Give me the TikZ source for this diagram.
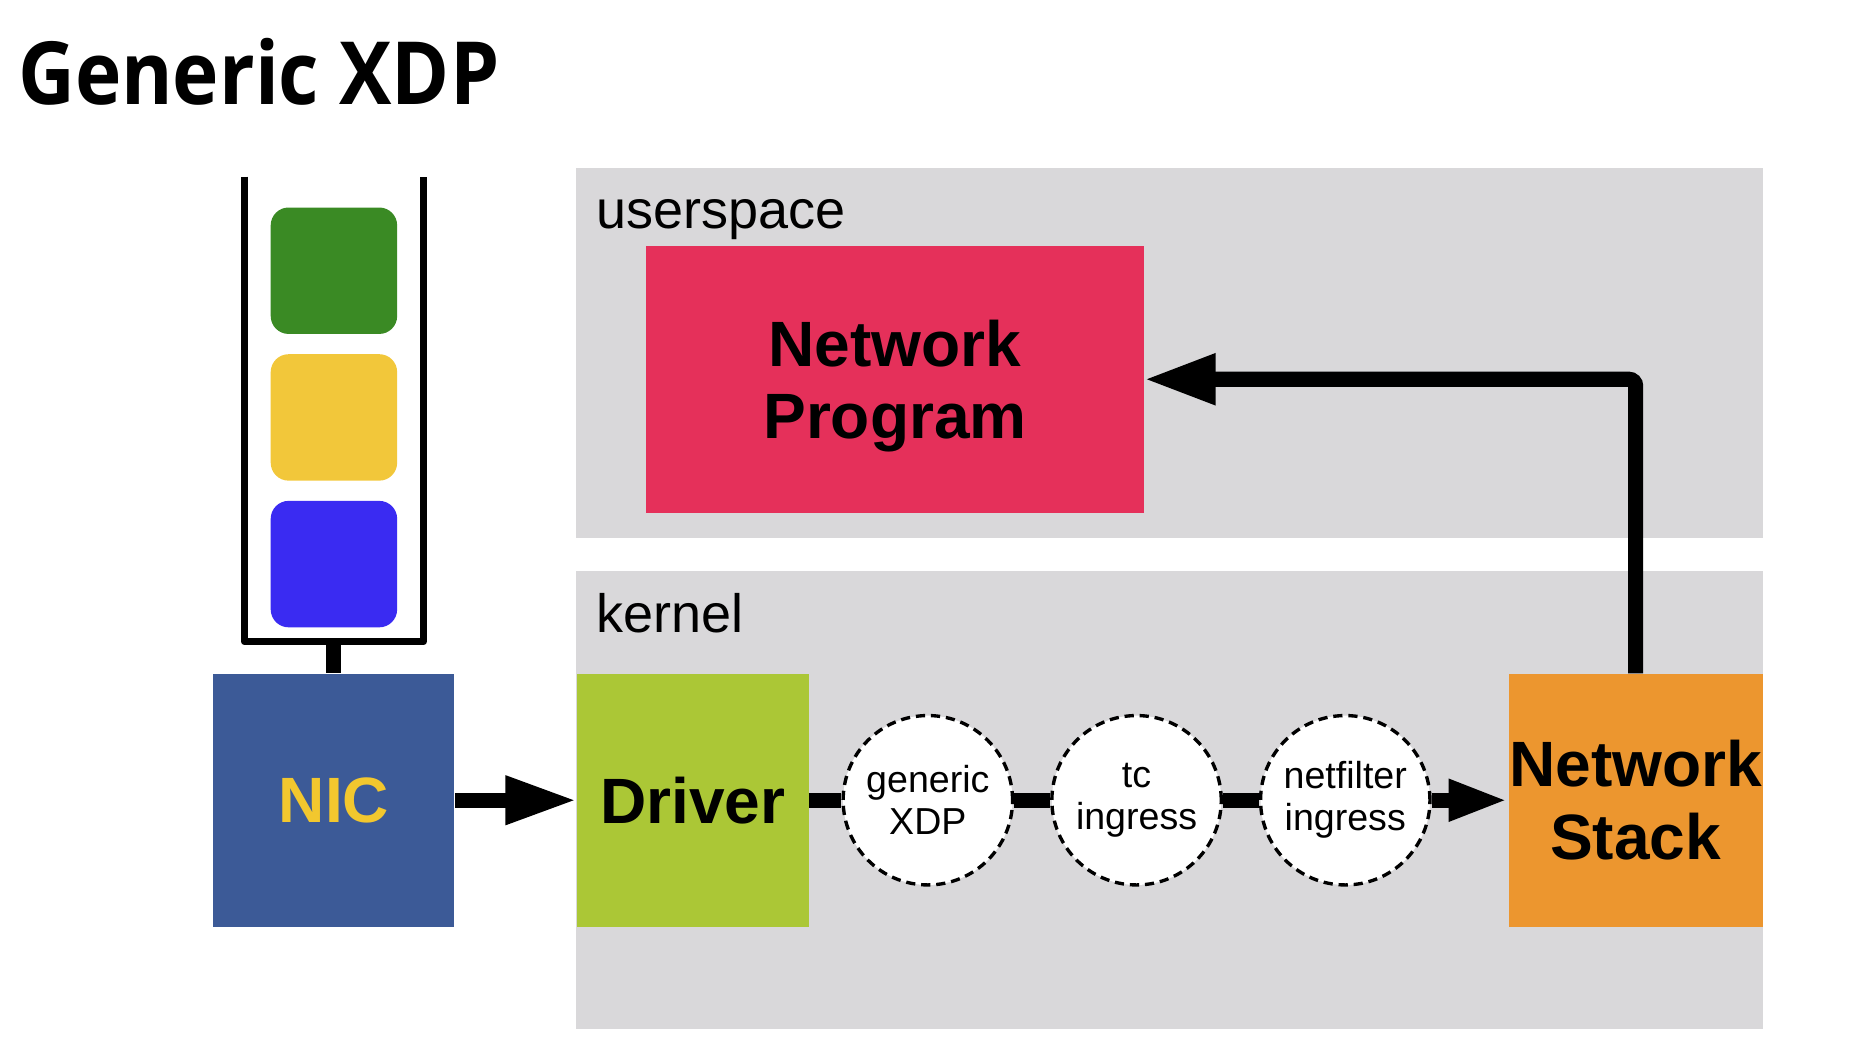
\documentclass[tikz,border=0pt]{standalone}
\usepackage{fontspec}
\setmainfont{Liberation Sans}
\newfontfamily\titlefont[FakeStretch=0.9]{Open Sans}
\usetikzlibrary{arrows.meta}

\definecolor{panelgrey}{HTML}{D9D8DA}
\definecolor{pktgreen}{HTML}{3A8A24}
\definecolor{pktyellow}{HTML}{F2C73A}
\definecolor{pktblue}{HTML}{3A2BF2}
\definecolor{nicblue}{HTML}{3C5A97}
\definecolor{nicyellow}{HTML}{F2C72E}
\definecolor{progred}{HTML}{E5305A}
\definecolor{drvgreen}{HTML}{ABC736}
\definecolor{stackorange}{HTML}{EC962F}

\tikzset{
	block/.style={rectangle, inner sep=0pt, align=center,
		font=\fontsize{38.2}{43.4}\selectfont\bfseries},
	hook/.style={circle, draw, fill=white, line width=2pt,
		dash pattern=on 5.5pt off 3.5pt, minimum size=3.55cm,
		inner sep=0pt, align=center, font=\fontsize{22.4}{25}\selectfont},
	packet/.style={rectangle, rounded corners=0.375cm, minimum size=2.65cm},
	flow/.style={line width=9pt},
	panellabel/.style={anchor=base west, inner sep=0pt,
		font=\fontsize{32.2}{36}\selectfont},
}

\begin{document}
\begin{tikzpicture}[x=0.025cm, y=-0.025cm]

	\useasboundingbox (0,0) rectangle (1568,882);

	% Title
	\node[anchor=base west, inner sep=0pt,
		font=\titlefont\fontsize{52}{58}\selectfont\bfseries] (title) at (15,88) {Generic XDP};

	% Panels
	\fill[panelgrey] (483,141) rectangle (1478,451);
	\fill[panelgrey] (483,479) rectangle (1478,863);
	\node[panellabel] (userlbl) at (500,192) {userspace};
	\node[panellabel] (kernlbl) at (500,530) {kernel};

	% Packet queue
	\coordinate (qtl) at (205,148);
	\coordinate (qbl) at (205,538);
	\coordinate (qbr) at (355,538);
	\coordinate (qtr) at (355,148);
	\coordinate (qbot) at (280,538);
	\draw[line width=4.3pt, line join=round] (qtl) -- (qbl) -- (qbr) -- (qtr);
	\node[packet, fill=pktgreen]  (pkt1) at (280,227) {};
	\node[packet, fill=pktyellow] (pkt2) at (280,350) {};
	\node[packet, fill=pktblue]   (pkt3) at (280,473) {};

	% Boxes
	\node[block, fill=nicblue, text=nicyellow, minimum width=5.05cm, minimum height=5.3cm]
		(nic) at (280,671) {NIC};
	\node[block, fill=drvgreen, minimum width=4.85cm, minimum height=5.3cm]
		(driver) at (581,671) {Driver};
	\node[block, fill=stackorange, minimum width=5.325cm, minimum height=5.3cm]
		(stack) at (1371.5,671) {Network\\Stack};
	\node[block, fill=progred, minimum width=10.425cm, minimum height=5.6cm]
		(prog) at (750.5,318) {Network\\\raisebox{0pt}[\height][0pt]{Program}};

	% Hooks
	\node[hook] (xdp) at (778,671)  {generic\\XDP};
	\node[hook] (tc)  at (953,671)  {tc\\ingress};
	\node[hook] (nf)  at (1128,671) {netfilter\\ingress};

	% Connectors
	\draw[flow] (qbot) -- (nic.north);
	\draw[flow, -{Triangle[length=1.5cm, width=0.95cm]}] (nic.east) -- (driver.west);
	\draw[flow] (driver.east) -- (xdp.west);
	\draw[flow] (xdp.east) -- (tc.west);
	\draw[flow] (tc.east) -- (nf.west);
	\draw[flow, -{Triangle[length=1.25cm, width=0.8cm]}] (nf.east) -- (stack.west);
	\draw[flow, rounded corners=4pt, -{Triangle[length=1.5cm, width=1cm]}]
		(stack.north) |- (prog.east);
\end{tikzpicture}
\end{document}
